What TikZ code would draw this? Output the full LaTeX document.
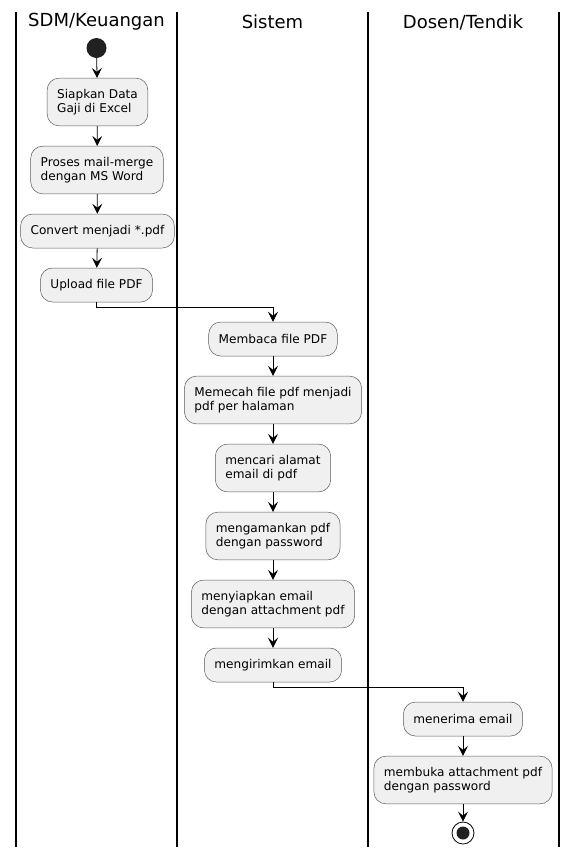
\documentclass[tikz,border=0pt]{standalone}
\usepackage{fontspec}
\setmainfont{DejaVu Sans}
\usetikzlibrary{arrows.meta}

\begin{document}
\begin{tikzpicture}[x=1pt, y=-1pt,
	act/.style={draw=black!65, line width=0.5pt, fill=black!6, rounded corners=12pt,
		align=left, inner xsep=10pt, inner ysep=11pt, minimum height=34pt,
		font=\fontsize{12.1}{14}\selectfont},
	flow/.style={draw, line width=0.8pt, -{Stealth[length=10pt, width=10pt, inset=4pt]}},
	lane/.style={draw, line width=1.1pt},
	title/.style={font=\fontsize{18}{20}\selectfont}]

	\useasboundingbox (0,0) rectangle (577,857);

	\coordinate (lane_a) at (16,12);
	\coordinate (lane_b) at (177,12);
	\coordinate (lane_c) at (368,12);
	\coordinate (lane_d) at (559,12);

	% Swimlanes
	\foreach \l in {lane_a, lane_b, lane_c, lane_d}
		\draw[lane] (\l) -- ++(0,835);

	\node[title] (sdm_title) at (96.5,22) {SDM/Keuangan};
	\node[title] (sistem_title) at (272.5,22) {Sistem};
	\node[title] (dosen_title) at (463,22) {Dosen/Tendik};

	% SDM/Keuangan
	\node[circle, fill=black!87, minimum size=20pt, inner sep=0pt] (start) at (96.5,48) {};
	\node[act] (siapkan) at (97.5,102) {Siapkan Data\\Gaji di Excel};
	\node[act] (proses) at (97,170) {Proses mail-merge\\dengan MS Word};
	\node[act] (convert) at (97.5,231) {Convert menjadi *.pdf};
	\node[act] (upload) at (96.5,285) {Upload file PDF};

	% Sistem
	\node[act] (membaca) at (273,339) {Membaca file PDF};
	\node[act] (memecah) at (273,400) {Memecah file pdf menjadi\\pdf per halaman};
	\node[act] (mencari) at (273,468) {mencari alamat\\email di pdf};
	\node[act] (mengamankan) at (273,536) {mengamankan pdf\\dengan password};
	\node[act] (menyiapkan) at (273,604) {menyiapkan email\\dengan attachment pdf};
	\node[act] (mengirim) at (273,665) {mengirimkan email};

	% Dosen/Tendik
	\node[act] (menerima) at (463,719) {menerima email};
	\node[act] (membuka) at (463,780) {membuka attachment pdf\\dengan password};
	\node[circle, draw, line width=0.8pt, minimum size=22pt, inner sep=0pt] (stop) at (463,833) {};
	\fill[black!87] (stop.center) circle (6.5pt);

	% Flow
	\draw[flow] (start) -- (siapkan);
	\draw[flow] (siapkan) -- (proses);
	\draw[flow] (proses) -- (convert);
	\draw[flow] (convert) -- (upload);
	\draw[flow] (upload.south) -- ++(0,5) -| (membaca.north);
	\draw[flow] (membaca) -- (memecah);
	\draw[flow] (memecah) -- (mencari);
	\draw[flow] (mencari) -- (mengamankan);
	\draw[flow] (mengamankan) -- (menyiapkan);
	\draw[flow] (menyiapkan) -- (mengirim);
	\draw[flow] (mengirim.south) -- ++(0,5) -| (menerima.north);
	\draw[flow] (menerima) -- (membuka);
	\draw[flow] (membuka) -- (stop);

\end{tikzpicture}
\end{document}
